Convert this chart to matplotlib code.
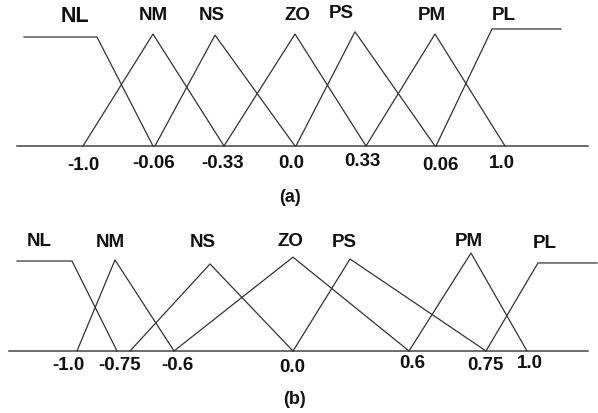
import matplotlib
import matplotlib.pyplot as plt

matplotlib.use('agg', force=True)
plt.rcParams['font.family'] = ['Liberation Sans', 'DejaVu Sans']

# fuzzy sets for panel (a): name -> (universe positions, membership grades)
sets_a = {
    "NL": ([24, 97, 153], [0.973, 0.973, 0.0]),
    "NM": ([83, 153, 224], [0.0, 1.0, 0.0]),
    "NS": ([155, 215, 295], [0.0, 0.99, 0.0]),
    "ZO": ([224, 295, 366], [0.0, 1.0, 0.0]),
    "PS": ([296, 355, 435], [0.0, 1.02, 0.0]),
    "PM": ([366, 435, 505], [0.0, 1.0, 0.0]),
    "PL": ([436, 492, 561], [0.0, 1.045, 1.045]),
}
names_a_x = [75, 153, 212, 297, 341, 432, 504]
ticks_a_x = [83, 154, 223, 291, 362, 440, 502]
ticks_a_lab = ["-1.0", "-0.06", "-0.33", "0.0", "0.33", "0.06", "1.0"]

# fuzzy sets for panel (b)
sets_b = {
    "NL": ([17, 72, 117], [0.978, 0.978, 0.0]),
    "NM": ([77, 115, 174], [0.0, 0.99, 0.0]),
    "NS": ([130, 210, 293], [0.0, 0.946, 0.0]),
    "ZO": ([174, 293, 409], [0.0, 1.02, 0.0]),
    "PS": ([293, 350, 486], [0.0, 1.0, 0.0]),
    "PM": ([409, 471, 527], [0.0, 1.065, 0.0]),
    "PL": ([486, 538, 597], [0.0, 0.957, 0.957]),
}
names_b_x = [39, 110, 203, 290, 344, 469, 545]
ticks_b_x = [68, 120, 177, 292, 412, 485, 530]
ticks_b_lab = ["-1.0", "-0.75", "-0.6", "0.0", "0.6", "0.75", "1.0"]

W, H = 598, 413
fig = plt.figure(figsize=(W / 100, H / 100), dpi=100)


def panel(base_px, top_px, sets, names_x, ticks_x, ticks_lab, span,
          name_dy, tick_dy, cap, cap_x, cap_dy, nl_size):
    ax = fig.add_axes([0, (H - base_px) / H, 1, (base_px - top_px) / H])
    ax.set_xlim(0, W)
    ax.set_ylim(0, 1)
    ax.axis('off')
    unit = base_px - top_px
    ax.plot(span, [0, 0], color='#444444', lw=1.1, clip_on=False)
    for name, (xs, ys) in sets.items():
        ax.plot(xs, ys, color='#333333', lw=0.9, clip_on=False)
    for i, (name, x) in enumerate(zip(sets.keys(), names_x)):
        ax.text(x, (base_px - name_dy[i]) / unit, name, ha='center', va='center',
                fontsize=nl_size if name == "NL" else 13.5, fontweight='bold',
                color='#111111')
    for x, lab, dy in zip(ticks_x, ticks_lab, tick_dy):
        ax.text(x, (base_px - dy) / unit, lab, ha='center', va='center',
                fontsize=13.5, fontweight='bold', color='#111111')
    ax.text(cap_x, (base_px - cap_dy) / unit, cap, ha='center', va='center',
            fontsize=13, fontweight='bold', color='#111111')


panel(146, 34, sets_a, names_a_x, ticks_a_x, ticks_a_lab, [17, 588],
      [17, 15, 15, 15, 13, 16, 15], [166, 163, 163, 163, 162, 166, 163],
      "(a)", 290, 197, 15.5)
panel(351, 259, sets_b, names_b_x, ticks_b_x, ticks_b_lab, [9, 588],
      [242, 243, 243, 241, 243, 242, 244], [365, 365, 365, 367, 363, 366, 363],
      "(b)", 295, 400, 13.5)

fig.savefig("out.png", dpi=100)
